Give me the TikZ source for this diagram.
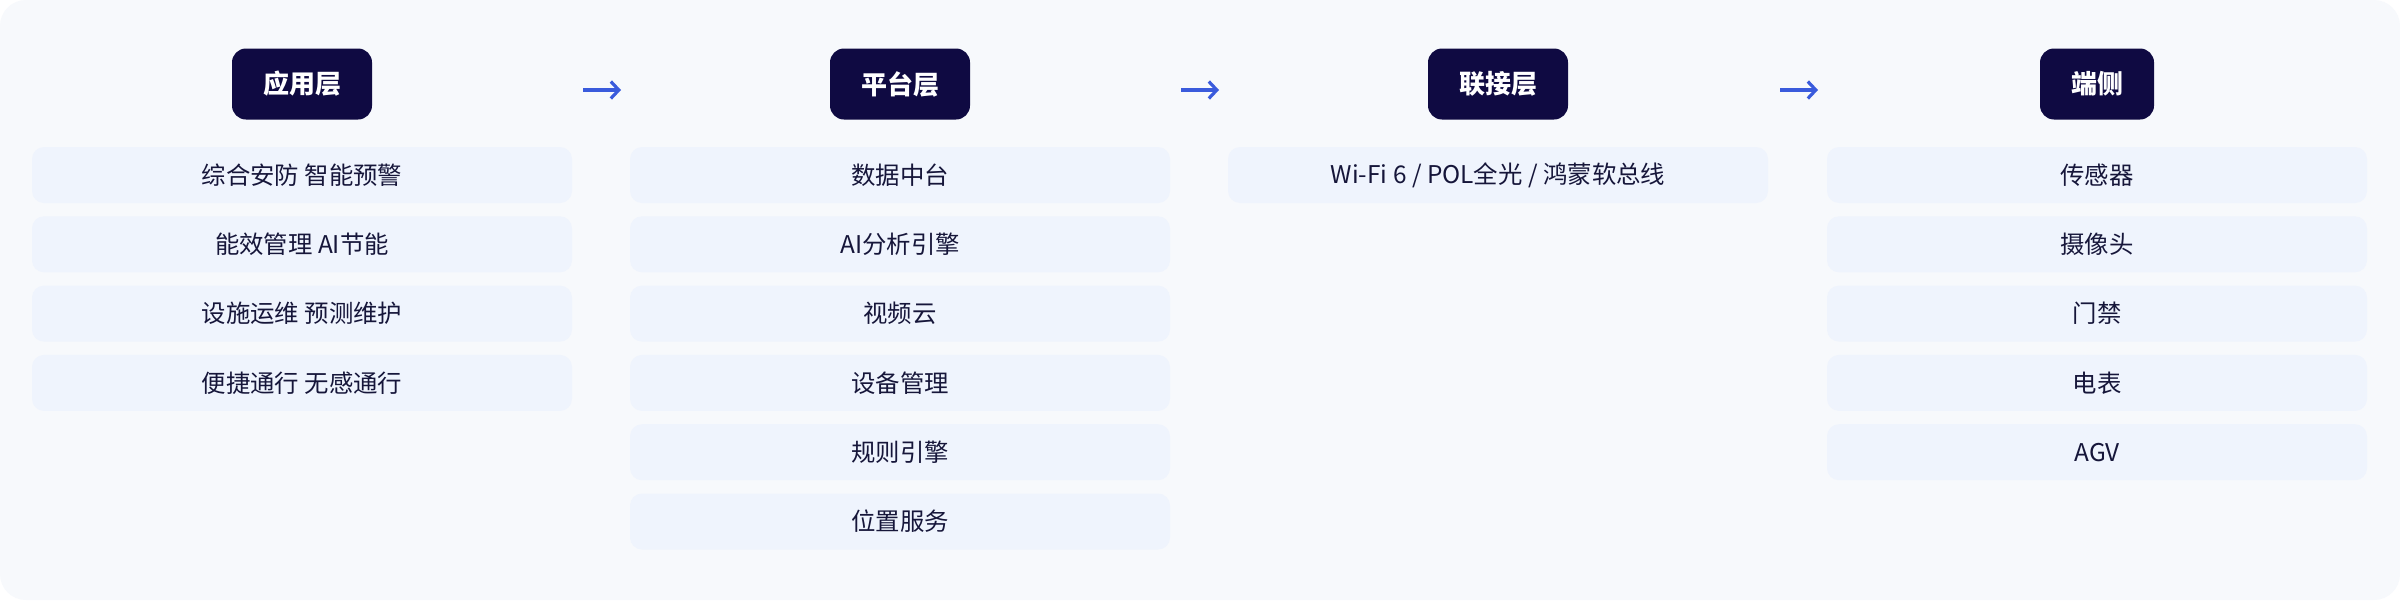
\documentclass[tikz,border=0pt]{standalone}
\usepackage{fontspec}
\setmainfont{Noto Sans CJK SC}
\usetikzlibrary{arrows.meta}
\definecolor{bgc}{HTML}{F7F9FC}
\definecolor{itemc}{HTML}{EFF4FD}
\definecolor{headc}{HTML}{0F0A42}
\definecolor{txtc}{HTML}{16163A}
\definecolor{arrc}{HTML}{3A5BDC}
\begin{document}
\begin{tikzpicture}[x=1pt,y=-1pt,
 header/.style={fill=headc, text=white, rounded corners=14pt, inner xsep=31pt, inner ysep=0pt, minimum height=71pt, font=\fontsize{26}{30}\selectfont\bfseries},
 item/.style={fill=itemc, text=txtc, rounded corners=12pt, minimum width=540pt, minimum height=56pt, inner sep=0pt, font=\fontsize{24.4}{28}\selectfont},
 flow/.style={draw=arrc, line width=3.6pt, -{Straight Barb[length=8pt,width=17pt,line width=3.2pt]}}]
\useasboundingbox (0,0) rectangle (2400,600);
\fill[white] (0,0) rectangle (2400,600);
\fill[bgc, rounded corners=26pt] (0,0) rectangle (2400,600);

% headers
\node[header] (h1) at (302,84) {应用层};
\node[header] (h2) at (900,84) {平台层};
\node[header] (h3) at (1498,84) {联接层};
\node[header] (h4) at (2097,84) {端侧};

% arrows between layers
\coordinate (s1) at (583,90); \coordinate (e1) at (621,90);
\coordinate (s2) at (1181,90); \coordinate (e2) at (1219,90);
\coordinate (s3) at (1780,90); \coordinate (e3) at (1818,90);
\draw[flow] (s1) -- (e1);
\draw[flow] (s2) -- (e2);
\draw[flow] (s3) -- (e3);

% column 1
\node[item] (a1) at (302,175) {综合安防 智能预警};
\node[item] (a2) at (302,244.3) {能效管理 AI节能};
\node[item] (a3) at (302,313.6) {设施运维 预测维护};
\node[item] (a4) at (302,382.9) {便捷通行 无感通行};

% column 2
\node[item] (p1) at (900,175) {数据中台};
\node[item] (p2) at (900,244.3) {AI分析引擎};
\node[item] (p3) at (900,313.6) {视频云};
\node[item] (p4) at (900,382.9) {设备管理};
\node[item] (p5) at (900,452.2) {规则引擎};
\node[item] (p6) at (900,521.5) {位置服务};

% column 3
\node[item] (c1) at (1498,175) {Wi-Fi 6 / POL全光 / 鸿蒙软总线};

% column 4
\node[item] (d1) at (2097,175) {传感器};
\node[item] (d2) at (2097,244.3) {摄像头};
\node[item] (d3) at (2097,313.6) {门禁};
\node[item] (d4) at (2097,382.9) {电表};
\node[item] (d5) at (2097,452.2) {AGV};
\end{tikzpicture}
\end{document}
